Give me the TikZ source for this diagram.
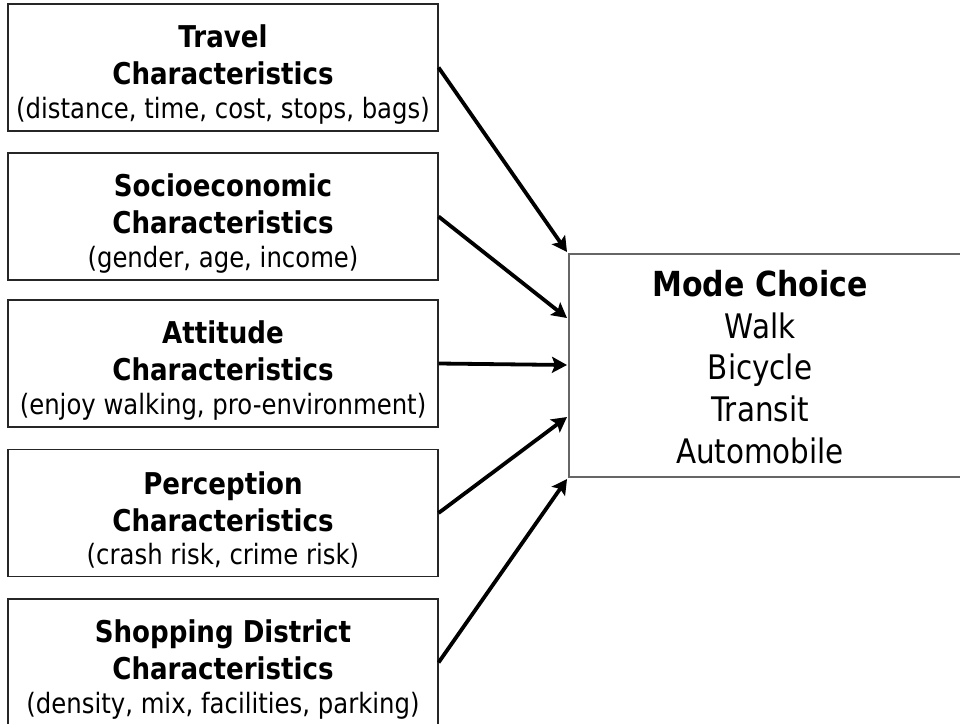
\documentclass[tikz,border=0pt]{standalone}
\usepackage{fontspec}
\setmainfont[FakeStretch=0.87]{DejaVu Sans}
\usetikzlibrary{arrows.meta}
\tikzset{
  factor/.style={draw=black!85, line width=1.1pt, rectangle, inner sep=0pt,
    minimum width=430pt, minimum height=127pt},
  modebox/.style={draw=black!60, line width=1.4pt, rectangle, inner sep=0pt,
    minimum width=420pt, minimum height=223pt},
  modetext/.style={inner sep=0pt},
  conn/.style={line width=3.8pt, black, -{Stealth[length=15pt,width=16pt,inset=3pt]}}
}
\newcommand{\ftxt}[2]{\parbox{430pt}{\centering\vspace*{14pt}{\bfseries\fontsize{30}{36.7}\selectfont #1\par}{\fontsize{28}{33.5}\selectfont #2\par}}}
\begin{document}
\begin{tikzpicture}[x=1pt,y=-1pt]
\useasboundingbox (0,0) rectangle (960,723);
\clip (0,0) rectangle (960,723);
\fill[white] (0,0) rectangle (960,723);
\node[factor] (trav) at (223,67.5) {\ftxt{Travel\\Characteristics}{(distance, time, cost, stops, bags)}};
\node[factor] (socio) at (223,216.5) {\ftxt{Socioeconomic\\Characteristics}{(gender, age, income)}};
\node[factor] (att) at (223,363.5) {\ftxt{Attitude\\Characteristics}{(enjoy walking, pro-environment)}};
\node[factor] (perc) at (223,513) {\ftxt{Perception\\Characteristics}{(crash risk, crime risk)}};
\node[factor] (shop) at (223,662.5) {\ftxt{Shopping District\\Characteristics}{(density, mix, facilities, parking)}};
\node[modebox] (mode) at (779,365.5) {};
\node[modetext] (modet) at (760,367) {\parbox{300pt}{\centering{\bfseries\fontsize{34.5}{41.7}\selectfont Mode Choice\par}{\fontsize{33.8}{41.7}\selectfont Walk\\Bicycle\\Transit\\Automobile\par}}};
\coordinate (t1) at (567,252);
\coordinate (t2) at (567,318);
\coordinate (t3) at (567,365);
\coordinate (t4) at (567,417);
\coordinate (t5) at (567,479);
\draw[conn] (trav.east) -- (t1);
\draw[conn] (socio.east) -- (t2);
\draw[conn] (att.east) -- (t3);
\draw[conn] (perc.east) -- (t4);
\draw[conn] (shop.east) -- (t5);
\end{tikzpicture}
\end{document}
